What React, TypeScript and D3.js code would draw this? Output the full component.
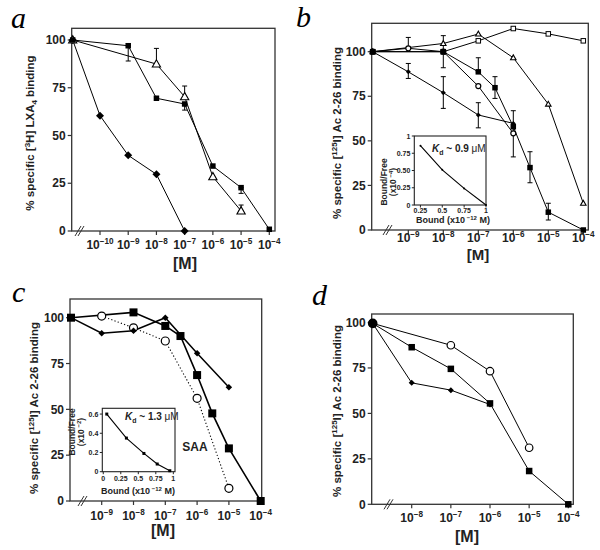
import React from "react";
import * as d3 from "d3";

type Pt = [number, number];
type Err = [number, number, number];

// ---------- Panel a ----------
const aXTicks = [1e-10, 1e-9, 1e-8, 1e-7, 1e-6, 1e-5, 1e-4];
const aYTicks = [0, 25, 50, 75, 100];
const aSquares: Pt[] = [[0, 100], [1e-9, 97], [1e-8, 69.5], [1e-7, 66.5], [1e-6, 34], [1e-5, 22.7], [1e-4, 0.9]];
const aTriangles: Pt[] = [[0, 100], [1e-8, 87.4], [1e-7, 70.3], [1e-6, 28.4], [1e-5, 10.5]];
const aDiamonds: Pt[] = [[0, 100], [1e-10, 60.4], [1e-9, 39.6], [1e-8, 29.7], [1e-7, 0]];
const aErrors: Err[] = [[1e-9, 89, 97], [1e-8, 87.4, 95.6], [1e-7, 70.3, 75.9], [1e-7, 63.3, 66.5], [1e-5, 19.7, 22.7], [1e-5, 10.5, 13.6]];

// ---------- Panel b ----------
const bXTicks = [1e-9, 1e-8, 1e-7, 1e-6, 1e-5, 1e-4];
const bYTicks = [0, 25, 50, 75, 100];
const bOpenSquares: Pt[] = [[0, 100], [1e-8, 100], [1e-7, 106.1], [1e-6, 113], [1e-5, 110], [1e-4, 106.1]];
const bOpenTriangles: Pt[] = [[0, 100], [1e-8, 104.6], [1e-7, 109.9], [1e-6, 96.6], [1e-5, 70.6], [1e-4, 15]];
const bFilledSquares: Pt[] = [[0, 100], [1e-8, 100], [1e-7, 88.7], [3e-7, 79.8], [1e-6, 57.9], [3e-6, 35], [1e-5, 10], [1e-4, 0]];
const bOpenCircles: Pt[] = [[0, 100], [1e-9, 101.9], [1e-8, 100], [1e-7, 80.7], [1e-6, 54.2]];
const bDiamonds: Pt[] = [[0, 100], [1e-9, 88.7], [1e-8, 77], [1e-7, 64.5], [1e-6, 59.8]];
const bErrors: Err[] = [
  [1e-9, 101.9, 108], [1e-9, 85, 93.4], [1e-8, 91, 109], [1e-8, 68.2, 86],
  [1e-7, 88.7, 96.6], [1e-7, 57.3, 71.4], [3e-7, 73.8, 86], [1e-6, 41, 66.9],
  [3e-6, 26.5, 43.9], [1e-5, 5.6, 15],
];
const bInsetX = [0.25, 0.5, 0.75, 1];
const bInsetXLabels = ["0.25", "0.5", "0.75", "1"];
const bInsetY = [0, 0.25, 0.5, 0.75, 1];
const bInsetYLabels = ["0", "0.25", "0.50", "0.75", "1"];
const bInsetPts: Pt[] = [[0.25, 0.86], [0.5, 0.51], [0.75, 0.24], [1, 0]];

// ---------- Panel c ----------
const cXTicks = [1e-9, 1e-8, 1e-7, 1e-6, 1e-5, 1e-4];
const cYTicks = [0, 25, 50, 75, 100];
const cSquares: Pt[] = [[0, 100], [1e-8, 102.9], [1e-7, 95.5], [3e-7, 90], [1e-6, 68.7], [3e-6, 47.8], [1e-5, 28.7], [1e-4, 0]];
const cDiamonds: Pt[] = [[0, 100], [1e-9, 91.5], [1e-8, 92.9], [1e-7, 100], [1e-6, 80.6], [1e-5, 62]];
const cCircles: Pt[] = [[1e-9, 100.9], [1e-8, 94.5], [1e-7, 87.3], [1e-6, 56], [1e-5, 6.9]];
const cInsetX = [0, 0.25, 0.5, 0.75, 1];
const cInsetXLabels = ["0", "0.25", "0.5", "0.75", "1"];
const cInsetY = [0, 0.2, 0.4, 0.6];
const cInsetYLabels = ["0", "0.2", "0.4", "0.6"];
const cInsetPts: Pt[] = [[0.05, 0.6], [0.33, 0.35], [0.58, 0.19], [0.77, 0.08], [0.95, 0.01]];

// ---------- Panel d ----------
const dXTicks = [1e-8, 1e-7, 1e-6, 1e-5, 1e-4];
const dYTicks = [0, 25, 50, 75, 100];
const dCircles: Pt[] = [[0, 99.5], [1e-7, 87.5], [1e-6, 73.2], [1e-5, 31.1]];
const dSquares: Pt[] = [[0, 99.5], [1e-8, 86.4], [1e-7, 74.5], [1e-6, 55.5], [1e-5, 18.3], [1e-4, 0]];
const dDiamonds: Pt[] = [[0, 99.5], [1e-8, 66.8], [1e-7, 62.8], [1e-6, 54.9]];

const SANS = "Liberation Sans, Arial, sans-serif";
const SERIF = "Liberation Serif, Times New Roman, serif";

type Ser = { pts: Pt[]; marker: string; size: number; dash?: string; lw?: number };

function Marker({ m, x, y, s }: { m: string; x: number; y: number; s: number }) {
  const h = s / 2;
  switch (m) {
    case "sq":
      return <rect x={x - h} y={y - h} width={s} height={s} fill="#000" />;
    case "sqO":
      return <rect x={x - h} y={y - h} width={s} height={s} fill="#fff" stroke="#000" strokeWidth={1} />;
    case "triO":
      return (
        <polygon
          points={`${x},${y - h * 1.15} ${x - h * 1.1},${y + h * 0.8} ${x + h * 1.1},${y + h * 0.8}`}
          fill="#fff" stroke="#000" strokeWidth={1.1} />
      );
    case "dia":
      return <polygon points={`${x},${y - h} ${x + h},${y} ${x},${y + h} ${x - h},${y}`} fill="#000" />;
    case "circ":
      return <circle cx={x} cy={y} r={h} fill="#000" />;
    case "circO":
      return <circle cx={x} cy={y} r={h} fill="#fff" stroke="#000" strokeWidth={1.2} />;
    default:
      return null;
  }
}

function Pow({ x, y, exp, size = 12 }: { x: number; y: number; exp: number; size?: number }) {
  return (
    <text x={x} y={y} textAnchor="middle" fontFamily={SANS} fontWeight="bold" fontSize={size} fill="#222">
      10<tspan dy={-5} fontSize={size * 0.68}>{"\u2212" + Math.abs(exp)}</tspan>
    </text>
  );
}

type PanelProps = {
  box: { L: number; T: number; R: number; B: number };
  y0: number; y100: number;
  xTicks: number[]; xp0: number; xp1: number;
  yTicks: number[];
  series: Ser[];
  errors: Err[];
  breakX: number;
  tickLabelY: number;
  mX: number; mY: number; mSize?: number;
  titleX: number; titleY: number;
  title: React.ReactNode;
  letter: string; letterX: number; letterY: number;
  children?: React.ReactNode;
};

function Panel(p: PanelProps) {
  const { L, T, R, B } = p.box;
  const y = d3.scaleLinear().domain([0, 100]).range([p.y0, p.y100]);
  const x = d3.scaleLog().domain([p.xTicks[0], 1e-4]).range([p.xp0, p.xp1]);
  const xv = (v: number) => (v === 0 ? L + 1 : x(v));
  const line = d3.line<Pt>().x((d) => xv(d[0])).y((d) => y(d[1]));
  return (
    <g>
      <rect x={L} y={T} width={R - L} height={B - T} fill="none" stroke="#333" strokeWidth={1.3} />
      {p.yTicks.map((t) => (
        <g key={"y" + t}>
          <line x1={L - 4} x2={L} y1={y(t)} y2={y(t)} stroke="#333" strokeWidth={1.2} />
          <text x={L - 6} y={y(t) + 4.2} textAnchor="end" fontFamily={SANS} fontWeight="bold" fontSize={12} fill="#222">{t}</text>
        </g>
      ))}
      {p.xTicks.map((t) => (
        <g key={"x" + t}>
          <line x1={x(t)} x2={x(t)} y1={B} y2={B + 4} stroke="#333" strokeWidth={1.2} />
          <Pow x={x(t)} y={p.tickLabelY} exp={Math.round(Math.log10(t))} />
        </g>
      ))}
      <line x1={p.breakX - 5} y1={B + 5} x2={p.breakX + 1} y2={B - 5} stroke="#333" strokeWidth={1} />
      <line x1={p.breakX - 2} y1={B + 5} x2={p.breakX + 4} y2={B - 5} stroke="#333" strokeWidth={1} />
      {p.series.map((s, i) => (
        <path key={"l" + i} d={line(s.pts) || ""} fill="none" stroke="#000" strokeWidth={s.lw ?? 1} strokeDasharray={s.dash} />
      ))}
      {p.errors.map((e, i) => (
        <g key={"e" + i} stroke="#000" strokeWidth={1}>
          <line x1={x(e[0])} x2={x(e[0])} y1={y(e[1])} y2={y(e[2])} />
          <line x1={x(e[0]) - 2.5} x2={x(e[0]) + 2.5} y1={y(e[1])} y2={y(e[1])} />
          <line x1={x(e[0]) - 2.5} x2={x(e[0]) + 2.5} y1={y(e[2])} y2={y(e[2])} />
        </g>
      ))}
      {p.series.map((s, i) =>
        s.pts.map((d, j) => <Marker key={"m" + i + "_" + j} m={s.marker} x={xv(d[0])} y={y(d[1])} s={s.size} />)
      )}
      {p.children}
      <text x={p.mX} y={p.mY} textAnchor="middle" fontFamily={SANS} fontWeight="bold" fontSize={p.mSize ?? 16} fill="#222">[M]</text>
      <text transform={`translate(${p.titleX},${p.titleY}) rotate(-90)`} textAnchor="middle" fontFamily={SANS} fontWeight="bold" fontSize={11.5} fill="#222">{p.title}</text>
      <text x={p.letterX} y={p.letterY} fontFamily={SERIF} fontStyle="italic" fontSize={30} fill="#000">{p.letter}</text>
    </g>
  );
}

type InsetProps = {
  L: number; T: number; R: number; B: number;
  xDom: [number, number]; yDom: [number, number];
  xt: number[]; xtl: string[]; yt: number[]; ytl: string[];
  pts: Pt[]; marker: string; msize: number;
  kd: string; kdX: number; kdY: number;
  expo: string; yTitleX: number; yTitleY: number;
  xTitleX: number; xTitleY: number; xLabY: number;
};

function Inset(p: InsetProps) {
  const x = d3.scaleLinear().domain(p.xDom).range([p.L, p.R]);
  const y = d3.scaleLinear().domain(p.yDom).range([p.B, p.T]);
  const line = d3.line<Pt>().x((d) => x(d[0])).y((d) => y(d[1]));
  return (
    <g>
      <rect x={p.L} y={p.T} width={p.R - p.L} height={p.B - p.T} fill="#fff" stroke="#222" strokeWidth={1.1} />
      {p.yt.map((t, i) => (
        <g key={"iy" + i}>
          <line x1={p.L - 2.5} x2={p.L} y1={y(t)} y2={y(t)} stroke="#222" />
          <text x={p.L - 4} y={y(t) + 2.5} textAnchor="end" fontFamily={SANS} fontWeight="bold" fontSize={7} fill="#222">{p.ytl[i]}</text>
        </g>
      ))}
      {p.xt.map((t, i) => (
        <g key={"ix" + i}>
          <line x1={x(t)} x2={x(t)} y1={p.B} y2={p.B + 2.5} stroke="#222" />
          <text x={x(t)} y={p.xLabY} textAnchor="middle" fontFamily={SANS} fontWeight="bold" fontSize={7} fill="#222">{p.xtl[i]}</text>
        </g>
      ))}
      <path d={line(p.pts) || ""} fill="none" stroke="#000" strokeWidth={1.1} />
      {p.pts.map((d, i) => <Marker key={"ip" + i} m={p.marker} x={x(d[0])} y={y(d[1])} s={p.msize} />)}
      <text x={p.kdX} y={p.kdY} fontFamily={SANS} fontWeight="bold" fontSize={10} fill="#222">
        <tspan fontStyle="italic">K</tspan><tspan dy={2.5} fontSize={7}>d</tspan><tspan dy={-2.5}>{" ~ " + p.kd + " "}</tspan><tspan fontWeight="normal">μM</tspan>
      </text>
      <text x={p.xTitleX} y={p.xTitleY} textAnchor="middle" fontFamily={SANS} fontWeight="bold" fontSize={9} fill="#222">
        Bound (x10<tspan dy={-3.5} fontSize={6}>{" \u221212"}</tspan><tspan dy={3.5}> M)</tspan>
      </text>
      <text transform={`translate(${p.yTitleX},${p.yTitleY}) rotate(-90)`} textAnchor="middle" fontFamily={SANS} fontWeight="bold" fontSize={8.5} fill="#222">Bound/Free</text>
      <text transform={`translate(${p.yTitleX + 9},${p.yTitleY}) rotate(-90)`} textAnchor="middle" fontFamily={SANS} fontWeight="bold" fontSize={8.5} fill="#222">
        (x10<tspan dy={-3.5} fontSize={6}>{" \u2212" + p.expo}</tspan><tspan dy={3.5}>)</tspan>
      </text>
    </g>
  );
}

const titleA = (
  <>% specific [<tspan dy={-4} fontSize={8}>3</tspan><tspan dy={4}>H] LXA</tspan><tspan dy={3} fontSize={8}>4</tspan><tspan dy={-3}> binding</tspan></>
);
const titleAc = (
  <>% specific [<tspan dy={-4} fontSize={8}>125</tspan><tspan dy={4}>I] Ac 2-26 binding</tspan></>
);

export default function App() {
  const dY = d3.scaleLinear().domain([0, 100]).range([504.3, 322.5]);
  return (
    <svg width={600} height={550} viewBox="0 0 600 550" style={{ display: "block", position: "absolute", left: 0, top: 0, background: "#fff" }}>
      <rect x={0} y={0} width={600} height={550} fill="#fff" />
      <Panel
        box={{ L: 71.7, T: 28.3, R: 275, B: 231 }} y0={231} y100={40}
        xTicks={aXTicks} xp0={100} xp1={269.3} yTicks={aYTicks}
        series={[
          { pts: aDiamonds, marker: "dia", size: 8 },
          { pts: aTriangles, marker: "triO", size: 7.5 },
          { pts: aSquares, marker: "sq", size: 5.5 },
        ]}
        errors={aErrors} breakX={80} tickLabelY={249}
        mX={185} mY={269} titleX={34} titleY={133} title={titleA}
        letter="a" letterX={11} letterY={28}
      />
      <Panel
        box={{ L: 371.7, T: 23.3, R: 588.3, B: 230 }} y0={230} y100={51.7}
        xTicks={bXTicks} xp0={408.3} xp1={583.3} yTicks={bYTicks}
        series={[
          { pts: bOpenSquares, marker: "sqO", size: 4.5 },
          { pts: bOpenTriangles, marker: "triO", size: 5 },
          { pts: bDiamonds, marker: "dia", size: 5 },
          { pts: bOpenCircles, marker: "circO", size: 5 },
          { pts: bFilledSquares, marker: "sq", size: 5.5 },
        ]}
        errors={bErrors} breakX={388} tickLabelY={242}
        mX={478} mY={260} mSize={15} titleX={341} titleY={133} title={titleAc}
        letter="b" letterX={296} letterY={27}
      >
        <Inset L={414.3} T={136} R={486} B={205} xDom={[0.18, 1]} yDom={[0, 1]}
          xt={bInsetX} xtl={bInsetXLabels} yt={bInsetY} ytl={bInsetYLabels}
          pts={bInsetPts} marker="circ" msize={2}
          kd="0.9" kdX={432} kdY={152} expo="4" yTitleX={387} yTitleY={182}
          xTitleX={453} xTitleY={223} xLabY={213} />
      </Panel>
      <Panel
        box={{ L: 70, T: 299, R: 261.7, B: 501 }} y0={501} y100={317.7}
        xTicks={cXTicks} xp0={101.7} xp1={260.7} yTicks={cYTicks}
        series={[
          { pts: cCircles, marker: "circO", size: 8, dash: "1.2,2.2", lw: 1.1 },
          { pts: cDiamonds, marker: "dia", size: 6.5, lw: 1.5 },
          { pts: cSquares, marker: "sq", size: 8, lw: 1.6 },
        ]}
        errors={[]} breakX={83} tickLabelY={520}
        mX={163} mY={536} titleX={38} titleY={408} title={titleAc}
        letter="c" letterX={12} letterY={302}
      >
        <Inset L={102.3} T={408.3} R={175} B={471.7} xDom={[-0.014, 1.024]} yDom={[0, 0.66]}
          xt={cInsetX} xtl={cInsetXLabels} yt={cInsetY} ytl={cInsetYLabels}
          pts={cInsetPts} marker="sq" msize={3}
          kd="1.3" kdX={125} kdY={420} expo="2" yTitleX={75} yTitleY={432}
          xTitleX={138} xTitleY={494} xLabY={481} />
        <text x={195} y={451} textAnchor="middle" fontFamily={SANS} fontWeight="bold" fontSize={12} fill="#222">SAA</text>
      </Panel>
      <Panel
        box={{ L: 371.7, T: 314, R: 573.3, B: 504.3 }} y0={504.3} y100={322.5}
        xTicks={dXTicks} xp0={411.7} xp1={568.3} yTicks={dYTicks}
        series={[
          { pts: dDiamonds, marker: "dia", size: 6 },
          { pts: dSquares, marker: "sq", size: 6.5 },
          { pts: dCircles, marker: "circO", size: 7.5 },
        ]}
        errors={[]} breakX={389} tickLabelY={522}
        mX={467} mY={542} titleX={341} titleY={411} title={titleAc}
        letter="d" letterX={312} letterY={305}
      >
        <circle cx={372.7} cy={dY(dCircles[0][1])} r={4.8} fill="#000" />
      </Panel>
    </svg>
  );
}
